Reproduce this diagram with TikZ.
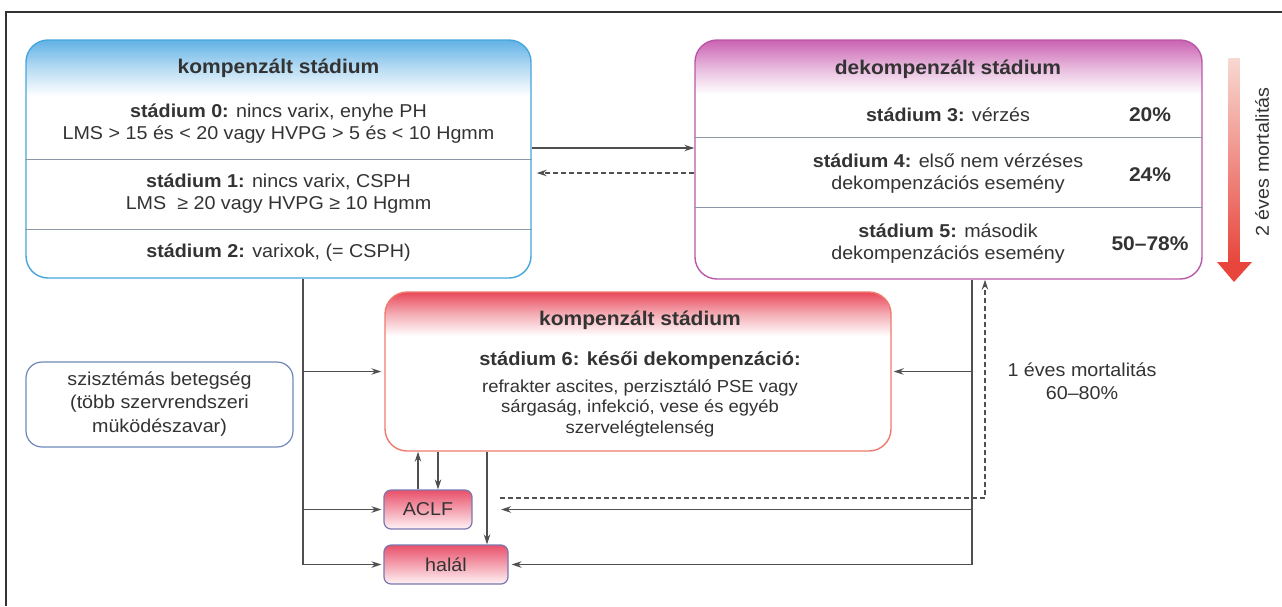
\documentclass[tikz,border=0pt]{standalone}
\usepackage{fontspec}
\setmainfont{Liberation Sans}[FakeStretch=1.06]
\usetikzlibrary{arrows.meta,calc}

\definecolor{ink}{HTML}{333333}
\definecolor{wire}{HTML}{505050}
\definecolor{compblue}{HTML}{45A6DC}
\definecolor{comphead}{HTML}{62B2E6}
\definecolor{decompline}{HTML}{B958A8}
\definecolor{decomphead}{HTML}{CA62B2}
\definecolor{lateline}{HTML}{EE7A6E}
\definecolor{latehead}{HTML}{E8485A}
\definecolor{smallline}{HTML}{7A78B0}
\definecolor{smalltop}{HTML}{E8506A}
\definecolor{smallbot}{HTML}{FFF3F5}
\definecolor{sysline}{HTML}{7088B8}
\definecolor{divider}{HTML}{8C98A8}
\definecolor{arrowtop}{HTML}{F7D9D2}
\definecolor{arrowbot}{HTML}{E8453C}

% box fills: white body with a coloured band at the top fading into it
\pgfdeclareverticalshading{compfade}{100bp}{color(0bp)=(white); color(63.2bp)=(white);
  color(69bp)=(comphead!45!white); color(75bp)=(comphead); color(100bp)=(comphead)}
\pgfdeclareverticalshading{decompfade}{100bp}{color(0bp)=(white); color(63.7bp)=(white);
  color(69.3bp)=(decomphead!45!white); color(75bp)=(decomphead); color(100bp)=(decomphead)}
\pgfdeclareverticalshading{latefade}{100bp}{color(0bp)=(white); color(61.2bp)=(white);
  color(68.1bp)=(latehead!45!white); color(75bp)=(latehead); color(100bp)=(latehead)}

\newcommand{\bodyfont}{\fontsize{18.6}{22}\selectfont}
\newcommand{\headfont}{\fontsize{19.8}{22}\selectfont\bfseries}
\newcommand{\smallbody}{\fontsize{17.4}{20.5}\selectfont}

\tikzset{
  conn/.style={draw=wire, line width=1.2pt},
  tip/.style={-{Stealth[length=10pt,width=6.5pt]}},
  dashline/.style={dash pattern=on 5pt off 3pt},
  stagebox/.style={rectangle, rounded corners=22pt, line width=1.4pt, inner sep=0pt},
  smallbox/.style={rectangle, rounded corners=7pt, line width=1.2pt, draw=smallline,
    top color=smalltop, bottom color=smallbot, inner sep=0pt, text=ink, font=\bodyfont},
  txt/.style={text=ink, align=center, inner sep=0pt},
  divline/.style={draw=divider, line width=0.9pt},
}

\begin{document}
\begin{tikzpicture}[x=1pt, y=-1pt]
\useasboundingbox (0,0) rectangle (1282,606);

% outer frame
\draw[ink, line width=1.2pt] (6,606) -- (6,12) -- (1282,12);

% compensated stage box
\node[stagebox, draw=compblue, shading=compfade, minimum width=505pt, minimum height=238pt]
  (comp) at (278.5,159) {};
\draw[divline] (comp.west |- 0,159) -- (comp.east |- 0,159);
\draw[divline] (comp.west |- 0,229) -- (comp.east |- 0,229);
\node[txt, font=\headfont] (comph) at (278.5,68) {kompenzált stádium};
\node[txt, font=\bodyfont] (s0) at (278.5,124)
  {\textbf{stádium 0:} nincs varix, enyhe PH\\LMS > 15 és < 20 vagy HVPG > 5 és < 10 Hgmm};
\node[txt, font=\bodyfont] (s1) at (278.5,193.5)
  {\textbf{stádium 1:} nincs varix, CSPH\\LMS \ ≥ 20 vagy HVPG ≥ 10 Hgmm};
\node[txt, font=\bodyfont] (s2) at (278.5,253) {\textbf{stádium 2:} varixok, (= CSPH)};

% decompensated stage box
\node[stagebox, draw=decompline, shading=decompfade, minimum width=507pt, minimum height=239pt]
  (decomp) at (948.5,159.5) {};
\draw[divline] (decomp.west |- 0,137) -- (decomp.east |- 0,137);
\draw[divline] (decomp.west |- 0,207) -- (decomp.east |- 0,207);
\node[txt, font=\headfont] (decomph) at (948,69) {dekompenzált stádium};
\node[txt, font=\bodyfont] (s3) at (948,115) {\textbf{stádium 3:} vérzés};
\node[txt, font=\bodyfont] (s4) at (948,173.5)
  {\textbf{stádium 4:} első nem vérzéses\\dekompenzációs esemény};
\node[txt, font=\bodyfont] (s5) at (948,244)
  {\textbf{stádium 5:} második\\dekompenzációs esemény};
\node[txt, font=\headfont] (p3) at (1150,115) {20\%};
\node[txt, font=\headfont] (p4) at (1150,175) {24\%};
\node[txt, font=\headfont] (p5) at (1150,244) {50–78\%};

% two-year mortality arrow
\shade[top color=arrowtop, bottom color=arrowbot] (1228.5,58) rectangle (1239.5,263);
\fill[arrowbot] (1217,262) -- (1252,262) -- (1234,282) -- cycle;
\node[txt, font=\bodyfont, rotate=90] (mort2) at (1262,162) {2 éves mortalitás};

% late decompensation box
\node[stagebox, draw=lateline, shading=latefade, minimum width=506pt, minimum height=159pt]
  (late) at (638,371.5) {};
\node[txt, font=\headfont] (lateh) at (640,320) {kompenzált stádium};
\node[txt, font=\fontsize{18.9}{22}\selectfont\bfseries] (s6) at (640,361) {stádium 6: késői dekompenzáció:};
\node[txt, font=\smallbody] (s6b) at (640,408)
  {refrakter ascites, perzisztáló PSE vagy\\sárgaság, infekció, vese és egyéb\\szervelégtelenség};

% systemic disease box
\node[rectangle, rounded corners=16pt, draw=sysline, line width=1.2pt, fill=white,
  minimum width=267pt, minimum height=85pt, inner sep=0pt] (sys) at (159.5,404.5) {};
\node[txt, font=\fontsize{18.6}{23.5}\selectfont] (syst) at (159.5,404)
  {szisztémás betegség\\(több szervrendszeri\\müködészavar)};

% outcome boxes
\node[smallbox, minimum width=88pt, minimum height=39pt] (aclf) at (428,509.5) {ACLF};
\node[smallbox, minimum width=124pt, minimum height=39pt] (halal) at (446,564.5) {halál};

% one-year mortality label
\node[txt, font=\fontsize{18.6}{23}\selectfont] (mort1) at (1082,381.5) {1 éves mortalitás\\60–80\%};

% connectors between the upper boxes
\draw[conn, tip] (comp.east |- 0,148) -- (decomp.west |- 0,148);
\draw[conn, tip, dashline] (decomp.west |- 0,173) -- ($(comp.east |- 0,173)+(5,0)$);

% left trunk
\draw[conn, tip, shorten >=2pt] (comp.south -| 303,0) |- (halal.west);
\draw[conn, tip, shorten >=3pt] (late.west -| 303,0) -- (late.west);
\draw[conn, tip, shorten >=2pt] (aclf.west -| 303,0) -- (aclf.west);

% right trunk
\coordinate (aclfin) at (501,509.5);
\draw[conn, tip, shorten >=3pt] (decomp.south -| 972,0) |- (halal.east);
\draw[conn, tip, shorten >=2pt] (late.east -| 972,0) -- (late.east);
\draw[conn, tip] (aclf.east -| 972,0) -- (aclfin);

% dashed return path
\coordinate (dstart) at (500,498);
\draw[conn, tip, dashline] (dstart) -| (decomp.south -| 985,0);

% exchanges between stage 6, ACLF and death
\draw[conn, tip] (aclf.north -| 418,0) -- (late.south -| 418,0);
\draw[conn, tip] (late.south -| 438,0) -- (aclf.north -| 438,0);
\draw[conn, tip] (late.south -| 487,0) -- (halal.north -| 487,0);
\end{tikzpicture}
\end{document}
